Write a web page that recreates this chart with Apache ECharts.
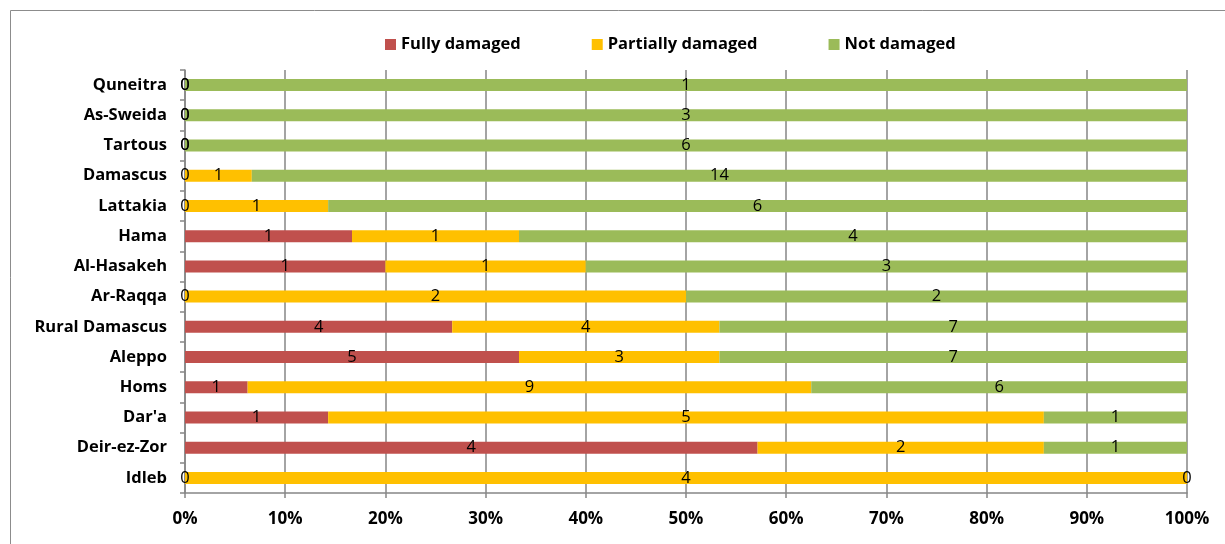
<!DOCTYPE html>
<html>
<head>
<meta charset="utf-8">
<script src="https://cdn.jsdelivr.net/npm/echarts@6/dist/echarts.min.js"></script>
<style>
  html, body { margin: 0; padding: 0; background: #fff; }
  #chart { width: 1225px; height: 544px; }
</style>
</head>
<body>
<div id="chart"></div>
<script>
// Governorates, listed bottom to top as the category axis draws them
const categories = ['Idleb', 'Deir-ez-Zor', "Dar'a", 'Homs', 'Aleppo', 'Rural Damascus',
  'Ar-Raqqa', 'Al-Hasakeh', 'Hama', 'Lattakia', 'Damascus', 'Tartous', 'As-Sweida', 'Quneitra'];

// Counts per damage status
const fullyDamaged     = [0, 4, 1, 1, 5, 4, 0, 1, 1, 0, 0, 0, 0, 0];
const partiallyDamaged = [4, 2, 5, 9, 3, 4, 2, 1, 1, 1, 1, 0, 0, 0];
const notDamaged       = [0, 1, 1, 6, 7, 7, 2, 3, 4, 6, 14, 6, 3, 1];

const xTicks = [0, 10, 20, 30, 40, 50, 60, 70, 80, 90, 100];

const seriesDefs = [
  { name: 'Fully damaged', values: fullyDamaged, color: '#C0504D' },
  { name: 'Partially damaged', values: partiallyDamaged, color: '#FFC000' },
  { name: 'Not damaged', values: notDamaged, color: '#9BBB59' }
];

const totals = categories.map((_, i) =>
  seriesDefs.reduce((s, d) => s + d.values[i], 0));

const BOLD_FONT = '"Open Sans", "Noto Sans", sans-serif';
const NUM_FONT = '"Open Sans", "Noto Sans", sans-serif';

const chart = echarts.init(document.getElementById('chart'), null, { renderer: 'canvas' });

chart.setOption({
  animation: false,
  backgroundColor: '#ffffff',
  graphic: [{
    type: 'rect',
    shape: { x: 10.5, y: 10.5, width: 1260, height: 600 },
    style: { fill: 'none', stroke: '#8c8c8c', lineWidth: 1 },
    silent: true
  }],
  legend: {
    top: 31,
    left: 380,
    itemWidth: 11,
    itemHeight: 11,
    itemGap: 71,
    icon: 'rect',
    textStyle: { fontFamily: BOLD_FONT, fontWeight: 'bold', fontSize: 16.5, color: '#000' },
    data: seriesDefs.map(d => d.name)
  },
  grid: { left: 185, right: 38, top: 70, bottom: 51, containLabel: false },
  xAxis: {
    type: 'value',
    min: 0,
    max: 100,
    interval: 10,
    axisLine: { show: true, lineStyle: { color: '#868686', width: 1.5 } },
    axisTick: { show: true, length: 5, lineStyle: { color: '#868686', width: 1.5 } },
    splitLine: { show: true, lineStyle: { color: '#868686', width: 1.5 } },
    axisLabel: {
      formatter: v => (xTicks.indexOf(v) >= 0 ? v + '%' : ''),
      fontFamily: BOLD_FONT, fontWeight: 'bold', fontSize: 17, color: '#000', margin: 18
    }
  },
  yAxis: {
    type: 'category',
    data: categories,
    axisLine: { show: true, lineStyle: { color: '#868686', width: 1.5 } },
    axisTick: { show: true, length: 5, lineStyle: { color: '#868686', width: 1.5 } },
    axisLabel: {
      fontFamily: BOLD_FONT, fontWeight: 'bold', fontSize: 16.5, color: '#000', margin: 18
    }
  },
  series: seriesDefs.map(d => ({
    name: d.name,
    type: 'bar',
    stack: 'share',
    barWidth: 12,
    itemStyle: { color: d.color },
    data: d.values.map((v, i) => ({ value: v / totals[i] * 100, count: v })),
    label: {
      show: true,
      position: 'inside',
      fontFamily: NUM_FONT,
      fontSize: 16.5,
      color: '#000',
      formatter: p => String(p.data.count)
    }
  }))
});
</script>
</body>
</html>
